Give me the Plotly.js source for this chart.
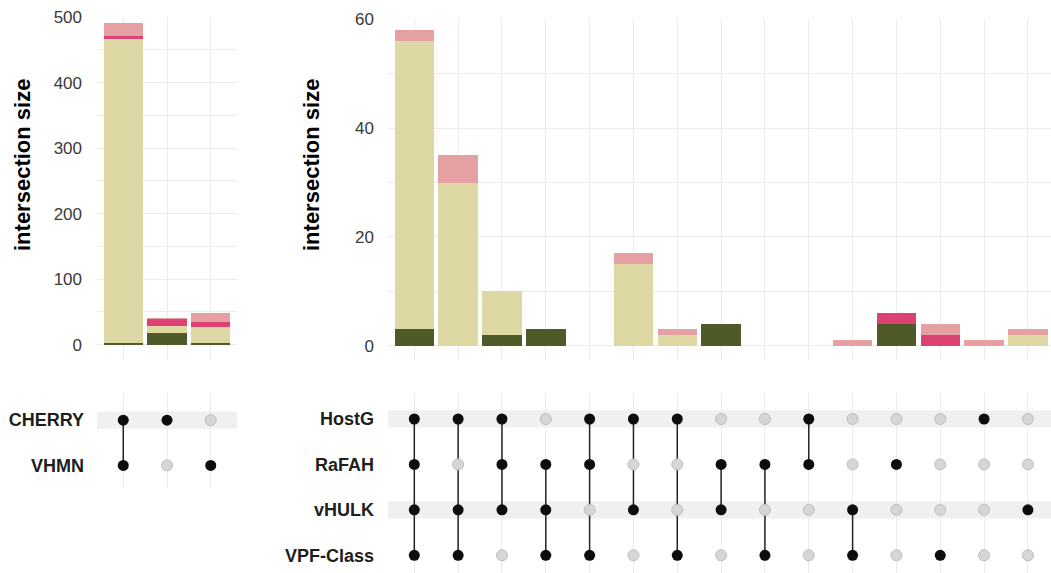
<!DOCTYPE html>
<html>
<head>
<meta charset="utf-8">
<script src="https://cdn.plot.ly/plotly-3.0.1.min.js"></script>
<style>
  html, body { margin: 0; padding: 0; background: #ffffff; }
  #chart { width: 1051px; height: 573px; }
</style>
</head>
<body>
<div id="chart"></div>
<script>
// ---- Two-set block (CHERRY / VHMN) ----
const leftSetLabels = ['VHMN', 'CHERRY'];      // bottom row first
const cherryIn = [1, 1, 0];
const vhmnIn   = [1, 0, 1];
const leftOlive   = [2, 18, 2];
const leftKhaki   = [465, 10, 25];
const leftCrimson = [4, 11, 8];
const leftRose    = [20, 2, 13];

// ---- Four-set block (HostG / RaFAH / vHULK / VPF-Class) ----
const rightSetLabels = ['VPF-Class', 'vHULK', 'RaFAH', 'HostG'];   // bottom row first
const hostGIn    = [1, 1, 1, 0, 1, 1, 1, 0, 0, 1, 0, 0, 0, 1, 0];
const rafahIn    = [1, 0, 1, 1, 1, 0, 0, 1, 1, 1, 0, 1, 0, 0, 0];
const vhulkIn    = [1, 1, 1, 1, 0, 1, 0, 1, 0, 0, 1, 0, 0, 0, 1];
const vpfClassIn = [1, 1, 0, 1, 1, 0, 1, 0, 1, 0, 1, 0, 1, 0, 0];
const rightOlive   = [3, 0, 2, 3, 0, 0, 0, 4, 0, 0, 0, 4, 0, 0, 0];
const rightKhaki   = [53, 30, 8, 0, 0, 15, 2, 0, 0, 0, 0, 0, 0, 0, 2];
const rightCrimson = [0, 0, 0, 0, 0, 0, 0, 0, 0, 0, 0, 2, 2, 0, 0];
const rightRose    = [2, 5, 0, 0, 0, 2, 1, 0, 0, 0, 1, 0, 2, 1, 1];

const sizeTitle = 'intersection size';

// ---- styling ----
const FONT = '"Liberation Sans", Arial, Helvetica, sans-serif';
const GRID = '#EBEBEB';
const STRIPE = '#F0F0F0';
const segColors = {olive: '#4E5A28', khaki: '#DDD8A4', crimson: '#DC4374', rose: '#E4A0A2'};
const W = 1051, H = 573;
const px = v => v / W;            // horizontal pixel -> paper fraction
const py = v => (H - v) / H;      // vertical pixel (from top) -> paper fraction

const idx = n => Array.from({length: n}, (_, i) => i + 1);

function barTraces(vals, xa, ya) {
  const n = vals.olive.length;
  return ['olive', 'khaki', 'crimson', 'rose'].map(k => ({
    type: 'bar', x: idx(n), y: vals[k], name: k,
    xaxis: xa, yaxis: ya,
    marker: {color: segColors[k], line: {width: 0}},
    hoverinfo: 'skip'
  }));
}

function matrixTraces(rows, xa, ya) {
  // rows: membership arrays, bottom row first (row value = index + 1)
  const n = rows[0].length;
  const lx = [], ly = [];
  const onX = [], onY = [], offX = [], offY = [];
  for (let c = 0; c < n; c++) {
    const hits = [];
    rows.forEach((r, ri) => {
      if (r[c]) { onX.push(c + 1); onY.push(ri + 1); hits.push(ri + 1); }
      else { offX.push(c + 1); offY.push(ri + 1); }
    });
    if (hits.length > 1) {
      lx.push(c + 1, c + 1, null);
      ly.push(Math.min(...hits), Math.max(...hits), null);
    }
  }
  return [
    {type: 'scatter', mode: 'lines', x: lx, y: ly, xaxis: xa, yaxis: ya,
     line: {color: '#222222', width: 1.5}, hoverinfo: 'skip'},
    {type: 'scatter', mode: 'markers', x: offX, y: offY, xaxis: xa, yaxis: ya,
     marker: {size: 11, color: '#D6D6D6', line: {color: '#BDBDBD', width: 1}}, hoverinfo: 'skip'},
    {type: 'scatter', mode: 'markers', x: onX, y: onY, xaxis: xa, yaxis: ya,
     marker: {size: 11, color: '#0d0d0d', line: {width: 0}}, hoverinfo: 'skip'}
  ];
}

const data = [
  ...barTraces({olive: leftOlive, khaki: leftKhaki, crimson: leftCrimson, rose: leftRose}, 'x', 'y'),
  ...barTraces({olive: rightOlive, khaki: rightKhaki, crimson: rightCrimson, rose: rightRose}, 'x2', 'y2'),
  ...matrixTraces([vhmnIn, cherryIn], 'x3', 'y3'),
  ...matrixTraces([vpfClassIn, vhulkIn, rafahIn, hostGIn], 'x4', 'y4')
];

const leftDom = [px(97), px(237)];
const rightDom = [px(388), 1];
const barDom = [py(360), py(17)];

function colAxis(dom, n, anchor, rmax) {
  return {
    domain: dom, anchor: anchor, range: [0.4, rmax],
    tickvals: idx(n), showticklabels: false, ticks: '',
    showgrid: true, gridcolor: GRID, gridwidth: 1, zeroline: false, showline: false,
    fixedrange: true
  };
}

const tickFont = {family: FONT, size: 17, color: '#3a3a3a'};
const titleFont = {family: FONT, size: 22, color: '#000000', weight: 'bold'};
const setFont = {family: FONT, size: 18, color: '#1e1e1e', weight: 'bold'};

const layout = {
  width: W, height: H,
  margin: {l: 0, r: 0, t: 0, b: 0},
  paper_bgcolor: '#ffffff', plot_bgcolor: 'rgba(0,0,0,0)',
  showlegend: false, barmode: 'stack', bargap: 0.1,
  font: {family: FONT},
  xaxis: colAxis(leftDom, 3, 'y', 3.6),
  xaxis2: colAxis(rightDom, 15, 'y2', 0.4 + 663 / 43.83),
  xaxis3: colAxis(leftDom, 3, 'y3', 3.6),
  xaxis4: colAxis(rightDom, 15, 'y4', 0.4 + 663 / 43.83),
  yaxis: {
    domain: barDom, anchor: 'x', range: [-23.3, 500],
    tickvals: [0, 100, 200, 300, 400, 500], ticks: '', tickfont: tickFont, ticklabelstandoff: 14,
    showgrid: true, gridcolor: GRID, gridwidth: 1, zeroline: false, showline: false,
    minor: {tickvals: [50, 150, 250, 350, 450], showgrid: true, gridcolor: GRID, gridwidth: 1, ticks: ''},
    fixedrange: true
  },
  yaxis2: {
    domain: [py(360), py(19.3)], anchor: 'x2', range: [-2.63, 60],
    tickvals: [0, 20, 40, 60], ticks: '', tickfont: tickFont, ticklabelstandoff: 13,
    showgrid: true, gridcolor: GRID, gridwidth: 1, zeroline: false, showline: false,
    minor: {tickvals: [10, 30, 50], showgrid: true, gridcolor: GRID, gridwidth: 1, ticks: ''},
    fixedrange: true
  },
  yaxis3: {
    domain: [py(488), py(393)], anchor: 'x3', range: [0.5, 2.6],
    tickvals: [1, 2], ticktext: leftSetLabels, ticks: '', tickfont: setFont, ticklabelstandoff: 12,
    showgrid: false, zeroline: false, showline: false, fixedrange: true
  },
  yaxis4: {
    domain: [0, py(393)], anchor: 'x4', range: [0.61, 4.572],
    tickvals: [1, 2, 3, 4], ticktext: rightSetLabels, ticks: '', tickfont: setFont, ticklabelstandoff: 13,
    showgrid: false, zeroline: false, showline: false, fixedrange: true
  },
  // rotated size titles beside each bar panel
  annotations: [
    {text: sizeTitle, xref: 'paper', yref: 'paper', x: px(22), y: py(165),
     xanchor: 'center', yanchor: 'middle', textangle: -90, showarrow: false, font: titleFont},
    {text: sizeTitle, xref: 'paper', yref: 'paper', x: px(311), y: py(165),
     xanchor: 'center', yanchor: 'middle', textangle: -90, showarrow: false, font: titleFont}
  ],
  shapes: [
    {type: 'rect', xref: 'x3 domain', x0: 0, x1: 1, yref: 'y3', y0: 1.808, y1: 2.192,
     fillcolor: STRIPE, line: {width: 0}, layer: 'below'},
    {type: 'rect', xref: 'x4 domain', x0: 0, x1: 1, yref: 'y4', y0: 3.81, y1: 4.19,
     fillcolor: STRIPE, line: {width: 0}, layer: 'below'},
    {type: 'rect', xref: 'x4 domain', x0: 0, x1: 1, yref: 'y4', y0: 1.81, y1: 2.19,
     fillcolor: STRIPE, line: {width: 0}, layer: 'below'}
  ]
};

Plotly.newPlot('chart', data, layout, {displayModeBar: false, staticPlot: true});
</script>
</body>
</html>
